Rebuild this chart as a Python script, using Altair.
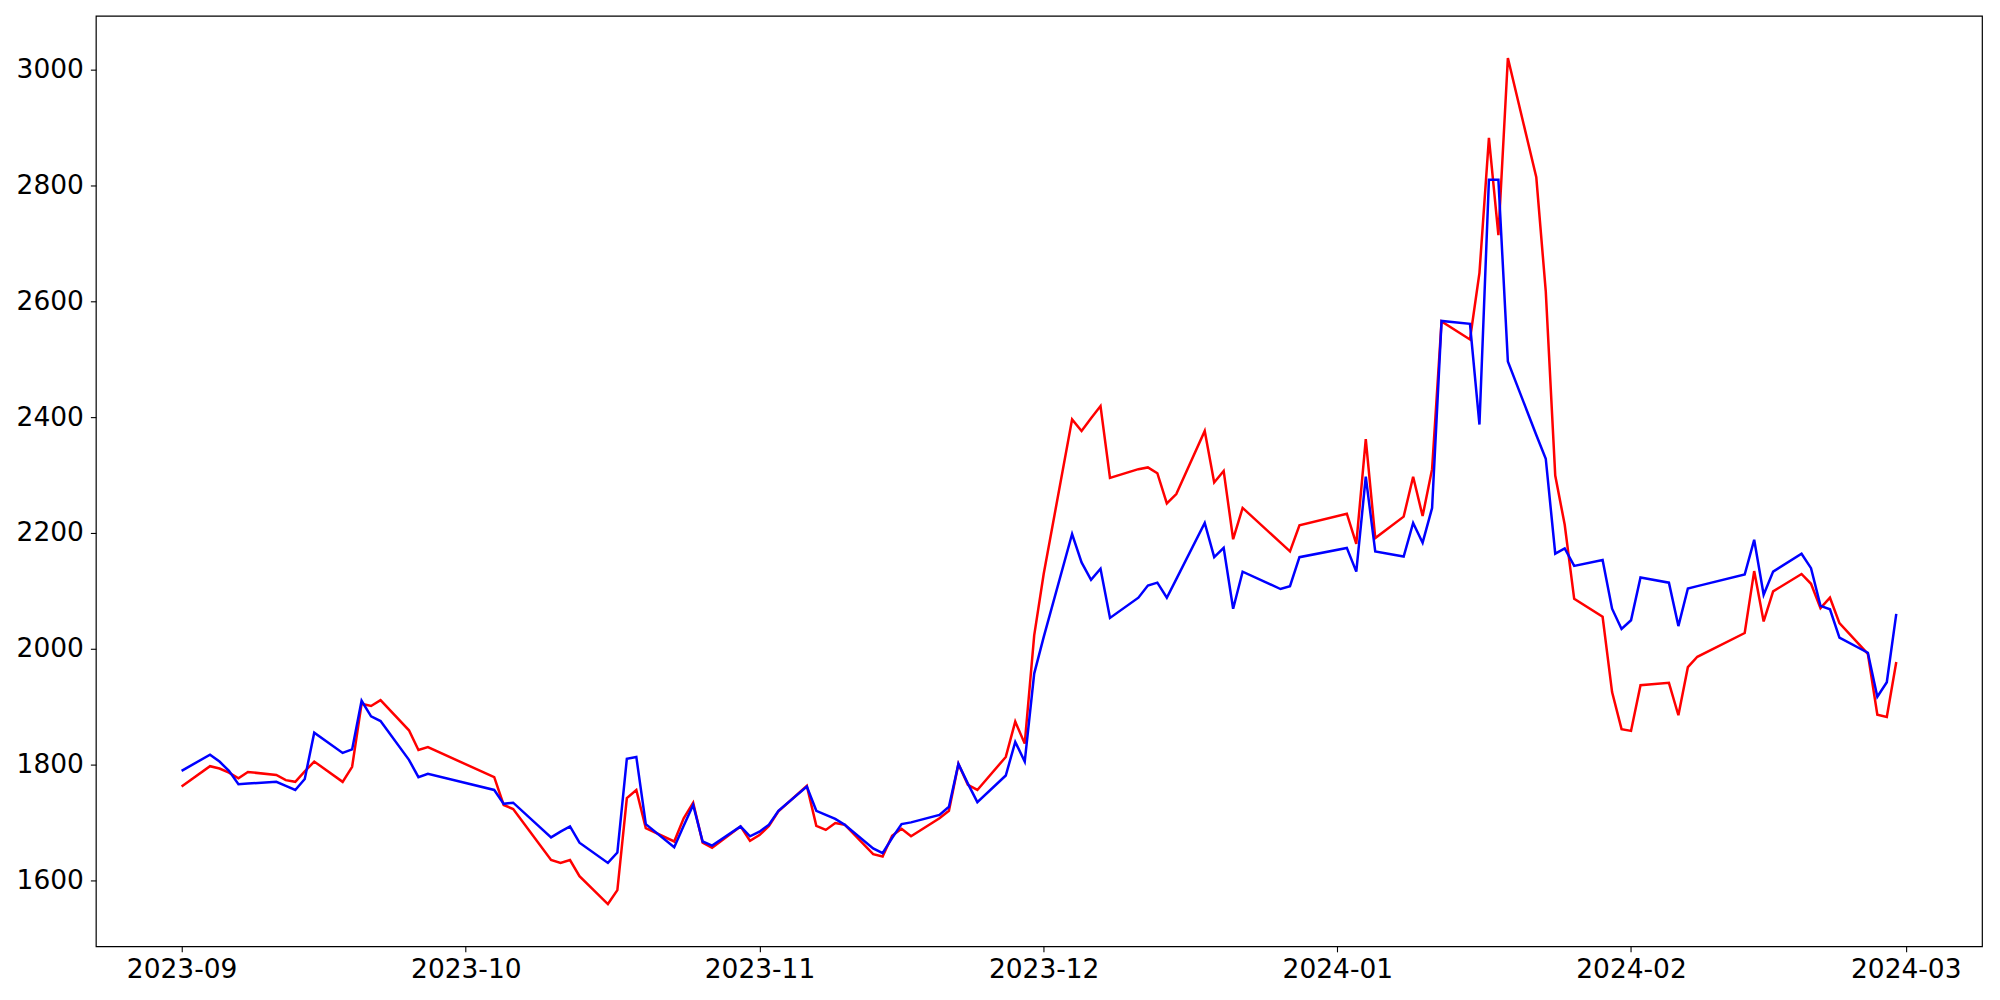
import altair as alt
import pandas as pd

# Trading days (KRX calendar) from 2023-09-01 to 2024-02-29
dates = [
    "2023-09-01", "2023-09-04", "2023-09-05", "2023-09-06", "2023-09-07", "2023-09-08",
    "2023-09-11", "2023-09-12", "2023-09-13", "2023-09-14", "2023-09-15",
    "2023-09-18", "2023-09-19", "2023-09-20", "2023-09-21", "2023-09-22",
    "2023-09-25", "2023-09-26", "2023-09-27",
    "2023-10-04", "2023-10-05", "2023-10-06",
    "2023-10-10", "2023-10-11", "2023-10-12", "2023-10-13",
    "2023-10-16", "2023-10-17", "2023-10-18", "2023-10-19", "2023-10-20",
    "2023-10-23", "2023-10-24", "2023-10-25", "2023-10-26", "2023-10-27",
    "2023-10-30", "2023-10-31", "2023-11-01", "2023-11-02", "2023-11-03",
    "2023-11-06", "2023-11-07", "2023-11-08", "2023-11-09", "2023-11-10",
    "2023-11-13", "2023-11-14", "2023-11-15", "2023-11-16", "2023-11-17",
    "2023-11-20", "2023-11-21", "2023-11-22", "2023-11-23", "2023-11-24",
    "2023-11-27", "2023-11-28", "2023-11-29", "2023-11-30", "2023-12-01",
    "2023-12-04", "2023-12-05", "2023-12-06", "2023-12-07", "2023-12-08",
    "2023-12-11", "2023-12-12", "2023-12-13", "2023-12-14", "2023-12-15",
    "2023-12-18", "2023-12-19", "2023-12-20", "2023-12-21", "2023-12-22",
    "2023-12-26", "2023-12-27", "2023-12-28",
    "2024-01-02", "2024-01-03", "2024-01-04", "2024-01-05",
    "2024-01-08", "2024-01-09", "2024-01-10", "2024-01-11", "2024-01-12",
    "2024-01-15", "2024-01-16", "2024-01-17", "2024-01-18", "2024-01-19",
    "2024-01-22", "2024-01-23", "2024-01-24", "2024-01-25", "2024-01-26",
    "2024-01-29", "2024-01-30", "2024-01-31", "2024-02-01", "2024-02-02",
    "2024-02-05", "2024-02-06", "2024-02-07", "2024-02-08",
    "2024-02-13", "2024-02-14", "2024-02-15", "2024-02-16",
    "2024-02-19", "2024-02-20", "2024-02-21", "2024-02-22", "2024-02-23",
    "2024-02-26", "2024-02-27", "2024-02-28", "2024-02-29",
]

red_values = [
    1762, 1797, 1793, 1786, 1776, 1787,
    1782, 1773, 1770, 1788, 1805,
    1770, 1796, 1905, 1901, 1911,
    1859, 1825, 1830,
    1778, 1730, 1723,
    1635, 1630, 1635, 1607,
    1559, 1583, 1742, 1756, 1690,
    1667, 1707, 1734, 1665, 1656,
    1693, 1668, 1678, 1694, 1719,
    1763, 1694, 1687, 1699, 1696,
    1645, 1641, 1677, 1689, 1676,
    1707, 1720, 1801, 1765, 1756,
    1813, 1874, 1836, 2023, 2129,
    2396, 2376, 2398, 2419, 2295,
    2310, 2313, 2303, 2251, 2267,
    2376, 2287, 2307, 2189, 2243,
    2183, 2168, 2213,
    2233, 2181, 2362, 2191,
    2228, 2297, 2229, 2310, 2565,
    2534, 2649, 2882, 2714, 3020,
    2814, 2617, 2299, 2214, 2086,
    2055, 1925, 1861, 1858, 1937,
    1941, 1885, 1968, 1986,
    2027, 2134, 2047, 2099,
    2129, 2112, 2070, 2088, 2044,
    1991, 1886, 1882, 1977,
]

blue_values = [
    1789, 1817, 1805, 1789, 1766, 1767,
    1770, 1763, 1756, 1775, 1855,
    1820, 1826, 1910, 1883, 1875,
    1808, 1778, 1784,
    1756, 1732, 1734,
    1674, 1684, 1693, 1665,
    1630, 1648, 1810, 1813, 1697,
    1657, 1694, 1730, 1667, 1660,
    1693, 1676, 1684, 1696, 1720,
    1762, 1720, 1713, 1706, 1696,
    1655, 1647, 1673, 1697, 1700,
    1713, 1727, 1801, 1767, 1735,
    1781, 1839, 1805, 1957, 2020,
    2198, 2149, 2119, 2138, 2053,
    2088, 2109, 2114, 2088, 2120,
    2217, 2158, 2174, 2069, 2133,
    2103, 2108, 2158,
    2174, 2133, 2297, 2168,
    2159, 2217, 2183, 2243, 2566,
    2561, 2387, 2810, 2810, 2496,
    2369, 2328, 2164, 2173, 2143,
    2153, 2069, 2034, 2049, 2123,
    2114, 2039, 2104, 2108,
    2128, 2188, 2093, 2133,
    2164, 2139, 2074, 2068, 2019,
    1993, 1917, 1942, 2060,
]

tick_months = [(2023, 9), (2023, 10), (2023, 11), (2023, 12), (2024, 1), (2024, 2), (2024, 3)]
y_ticks = [1600, 1800, 2000, 2200, 2400, 2600, 2800, 3000]

df = pd.DataFrame({"date": dates, "red": red_values, "blue": blue_values})

# matplotlib-like 5% margins
t0 = pd.Timestamp(dates[0], tz="UTC")
t1 = pd.Timestamp(dates[-1], tz="UTC")
span = t1 - t0
x_dom = [int((t0 - span * 0.05).timestamp() * 1000), int((t1 + span * 0.05).timestamp() * 1000)]
all_vals = red_values + blue_values
vmin, vmax = min(all_vals), max(all_vals)
vr = vmax - vmin
y_dom = [vmin - 0.05 * vr, vmax + 0.05 * vr]

x_enc = alt.X(
    "date:T",
    scale=alt.Scale(type="utc", domain=x_dom),
    axis=alt.Axis(
        values=[alt.DateTime(year=y, month=m, date=1, utc=True) for y, m in tick_months],
        labelExpr="utcFormat(datum.value, '%Y-%m')",
        title=None,
        grid=False,
        domain=False,
        labelPadding=5,
        labelFlush=False,
        labelOverlap=False,
    ),
)
y_axis = alt.Axis(values=y_ticks, format="d", title=None, grid=False, domain=False,
                  labelPadding=7, labelFlush=False)

base = alt.Chart(df)
red = base.mark_line(color="#ff0000", strokeWidth=2.5).encode(
    x=x_enc, y=alt.Y("red:Q", scale=alt.Scale(domain=y_dom, zero=False, nice=False), axis=y_axis)
)
blue = base.mark_line(color="#0000ff", strokeWidth=2.5).encode(
    x=x_enc, y=alt.Y("blue:Q", scale=alt.Scale(domain=y_dom, zero=False, nice=False), axis=y_axis)
)

chart = (
    alt.layer(red, blue)
    .properties(
        width=1889,
        height=932,
        autosize=alt.AutoSizeParams(type="none"),
        padding={"left": 88, "top": 7, "right": 10, "bottom": 45},
    )
    .configure_view(stroke="black", strokeWidth=1.2)
    .configure_axis(
        labelFont="DejaVu Sans",
        labelFontSize=26.5,
        labelColor="black",
        tickColor="black",
        tickSize=5.5,
        tickWidth=1.1,
    )
)

chart.save("out.html", embed_options={"renderer": "svg", "actions": False})
